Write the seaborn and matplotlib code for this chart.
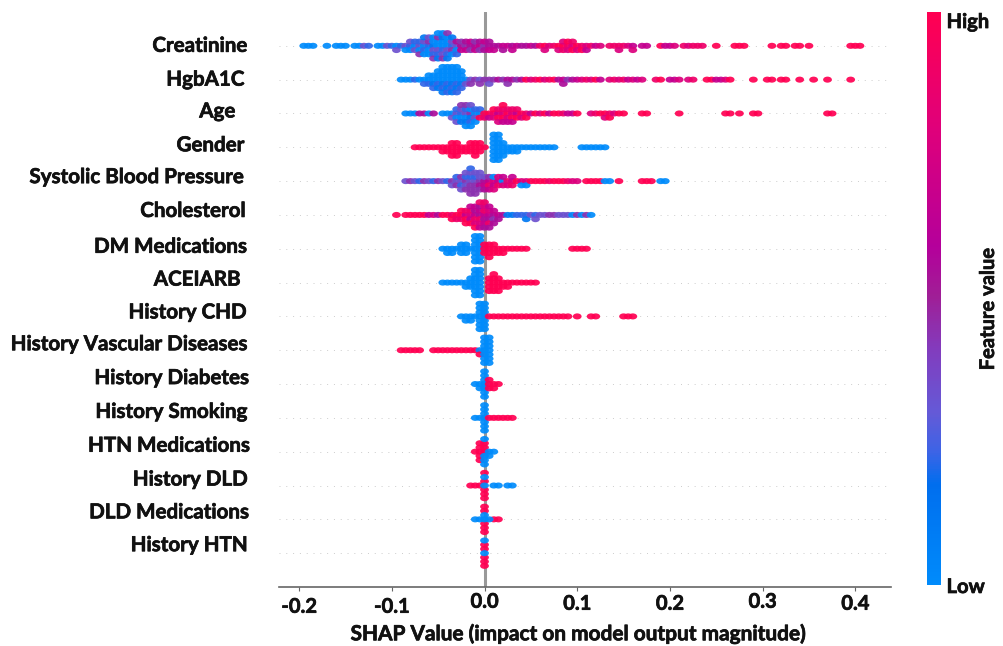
"""SHAP summary plot of feature impact on model output, drawn with seaborn."""

import numpy as np
import pandas as pd
import matplotlib
matplotlib.use('Agg')
import matplotlib.pyplot as plt
import matplotlib.patheffects as pe
import seaborn as sns
from matplotlib.colors import LinearSegmentedColormap
from matplotlib.cm import ScalarMappable
from matplotlib.path import Path
from matplotlib.transforms import Affine2D, ScaledTranslation

features = ['Creatinine', 'HgbA1C', 'Age ', 'Gender', 'Systolic Blood Pressure', 'Cholesterol',
            'DM Medications', 'ACEIARB ', 'History CHD', 'History Vascular Diseases',
            'History Diabetes', 'History Smoking', 'HTN Medications', 'History DLD',
            'DLD Medications', 'History HTN']

# each tone string is one stack of dots at that SHAP value, digit = feature value 0 (low) to 9 (high)
creatinine_shap = [-0.195, -0.19, -0.185, -0.17, -0.16, -0.155, -0.15, -0.14, -0.135, -0.13, -0.125, -0.115,
                   -0.11, -0.105, -0.1, -0.095, -0.09, -0.085, -0.08, -0.075, -0.07, -0.065, -0.06, -0.055,
                   -0.05, -0.045, -0.04, -0.035, -0.03, -0.025, -0.02, -0.015, -0.01, -0.005, 0.0, 0.005,
                   0.01, 0.015, 0.02, 0.025, 0.03, 0.035, 0.04, 0.045, 0.05, 0.055, 0.06, 0.065, 0.07, 0.075,
                   0.08, 0.085, 0.09, 0.095, 0.1, 0.105, 0.11, 0.115, 0.12, 0.125, 0.135, 0.14, 0.145, 0.15,
                   0.155, 0.16, 0.17, 0.175, 0.19, 0.195, 0.2, 0.205, 0.215, 0.22, 0.225, 0.23, 0.235, 0.25,
                   0.27, 0.275, 0.28, 0.31, 0.32, 0.325, 0.335, 0.34, 0.35, 0.395, 0.4, 0.405]
creatinine_tone = ['0', '0', '0', '0', '0', '0', '0', '0', '0', '3', '2', '0',
                   '0', '3', '2', '03', '2', '30', '203', '032', '3024', '02301', '20403', '130204',
                   '0302410', '0203140', '0302014', '24301', '3052', '564', '465', '546', '564', '645', '456', '565',
                   '56', '5', '65', '6', '56', '6', '5', '5', '6', '5', '8', '97', '7', '8',
                   '97', '987', '879', '798', '97', '89', '76', '8', '6', '7', '8', '8', '87', '8',
                   '7', '67', '6', '6', '9', '6', '6', '7', '8', '7', '8', '8', '8', '9',
                   '9', '9', '9', '9', '9', '9', '9', '9', '9', '9', '9', '9']

hba1c_shap = [-0.09, -0.085, -0.08, -0.075, -0.07, -0.065, -0.06, -0.055, -0.05, -0.045, -0.04, -0.035, -0.03,
              -0.025, -0.02, -0.015, -0.01, -0.005, 0.0, 0.005, 0.01, 0.015, 0.02, 0.025, 0.03, 0.035, 0.04,
              0.045, 0.05, 0.055, 0.06, 0.065, 0.07, 0.075, 0.08, 0.085, 0.09, 0.095, 0.1, 0.105, 0.11, 0.115,
              0.12, 0.125, 0.135, 0.14, 0.145, 0.15, 0.155, 0.16, 0.165, 0.17, 0.185, 0.19, 0.2, 0.205, 0.21,
              0.22, 0.225, 0.24, 0.245, 0.25, 0.255, 0.26, 0.265, 0.29, 0.305, 0.31, 0.32, 0.325, 0.34, 0.355,
              0.37, 0.395]
hba1c_tone = ['0', '0', '0', '2', '0', '02', '020', '0102', '02010', '0102010', '0201020', '0102010', '0201020',
              '01020', '03', '34', '4', '34', '4', '43', '4', '5', '4', '54', '5', '4', '5',
              '9', '7', '8', '9', '7', '8', '9', '5', '65', '4', '5', '6', '7', '8', '7',
              '9', '6', '7', '8', '7', '8', '6', '7', '6', '7', '8', '9', '6', '6', '7',
              '7', '8', '9', '9', '6', '6', '7', '9', '9', '9', '9', '9', '9', '9', '9',
              '9', '9']

age_shap = [-0.085, -0.08, -0.075, -0.07, -0.065, -0.06, -0.055, -0.045, -0.04, -0.035, -0.03, -0.025, -0.02,
            -0.015, -0.01, -0.005, 0.0, 0.005, 0.01, 0.015, 0.02, 0.025, 0.03, 0.035, 0.04, 0.045, 0.05, 0.055,
            0.06, 0.065, 0.07, 0.075, 0.08, 0.085, 0.09, 0.095, 0.1, 0.115, 0.12, 0.125, 0.13, 0.135, 0.14,
            0.145, 0.15, 0.17, 0.175, 0.21, 0.26, 0.265, 0.275, 0.29, 0.295, 0.37, 0.375]
age_tone = ['0', '0', '0', '5', '5', '0', '5', '0', '0', '03', '3023', '20314', '302140',
            '410230', '0320', '092', '98', '96', '879', '6987', '79869', '9786', '7986', '698', '97', '89', '6', '9',
            '7', '9', '6', '9', '9', '8', '6', '6', '9', '7', '8', '9', '97', '89', '7',
            '9', '9', '9', '9', '9', '9', '9', '9', '9', '9', '9', '9']

gender_shap = [-0.075, -0.07, -0.065, -0.06, -0.055, -0.05, -0.045, -0.04, -0.035, -0.03, -0.025, -0.02, -0.015,
               -0.01, -0.005, 0.0, 0.01, 0.015, 0.02, 0.025, 0.03, 0.035, 0.04, 0.045, 0.05, 0.055, 0.06, 0.065,
               0.07, 0.075, 0.105, 0.11, 0.115, 0.12, 0.125, 0.13]
gender_tone = ['9', '9', '9', '9', '9', '9', '99', '99', '9999', '9999', '99', '99', '999',
               '9999', '999', '9', '0000000', '0000000', '0000', '00', '00', '00', '0', '0', '0', '0', '0', '0',
               '0', '0', '0', '0', '0', '0', '0', '0']

sbp_shap = [-0.085, -0.08, -0.075, -0.07, -0.065, -0.06, -0.055, -0.05, -0.045, -0.04, -0.035, -0.03, -0.025,
            -0.02, -0.015, -0.01, -0.005, 0.0, 0.005, 0.01, 0.015, 0.02, 0.025, 0.03, 0.035, 0.04, 0.045, 0.05,
            0.055, 0.06, 0.065, 0.07, 0.075, 0.08, 0.085, 0.09, 0.095, 0.1, 0.11, 0.115, 0.12, 0.125, 0.13,
            0.135, 0.145, 0.17, 0.175, 0.18, 0.19, 0.195]
sbp_tone = ['3', '4', '3', '2', '4', '3', '2', '4', '3', '2', '43', '342', '3243',
            '43243', '3424342', '342434', '45343', '5635', '6846', '7607', '687', '076', '87', '786', '9', '70', '70', '9',
            '9', '9', '9', '8', '9', '9', '9', '8', '7', '7', '9', '9', '9', '9', '0',
            '0', '9', '9', '9', '9', '0', '0']

cholesterol_shap = [-0.095, -0.085, -0.08, -0.075, -0.07, -0.065, -0.06, -0.055, -0.05, -0.045, -0.04, -0.035,
                    -0.03, -0.025, -0.02, -0.015, -0.01, -0.005, 0.0, 0.005, 0.01, 0.015, 0.02, 0.025, 0.03, 0.035,
                    0.04, 0.045, 0.05, 0.055, 0.06, 0.065, 0.07, 0.075, 0.08, 0.085, 0.09, 0.095, 0.1, 0.105, 0.11,
                    0.115]
cholesterol_tone = ['9', '9', '9', '9', '9', '9', '6', '7', '5', '9', '9', '89',
                    '98', '989', '6989', '76896', '685769', '5867568', '6586758', '657865', '5465', '65', '5', '1', '1', '2',
                    '2', '21', '3', '23', '3', '3', '4', '4', '3', '3', '3', '0', '4', '0', '4',
                    '0']

dm_shap = [-0.045, -0.04, -0.035, -0.03, -0.025, -0.02, -0.015, -0.01, -0.005, 0.0, 0.005, 0.01, 0.015, 0.02,
           0.025, 0.03, 0.035, 0.04, 0.045, 0.095, 0.1, 0.105, 0.11]
dm_tone = ['0', '00', '00', '0', '000', '000', '0', '0000000', '0000000', '999', '9999', '999', '99', '99',
           '9', '9', '9', '9', '9', '9', '9', '9', '9']

acei_shap = [-0.045, -0.04, -0.035, -0.03, -0.025, -0.02, -0.015, -0.01, -0.005, 0.005, 0.01, 0.015, 0.02, 0.025,
             0.03, 0.035, 0.04, 0.045, 0.05, 0.055]
acei_tone = ['0', '0', '0', '0', '0', '00', '000', '0000000', '0000000', '9999', '99999', '9999', '99', '99',
             '9', '9', '9', '9', '9', '9']

chd_shap = [-0.025, -0.02, -0.015, -0.01, -0.005, 0.0, 0.005, 0.01, 0.015, 0.02, 0.025, 0.03, 0.035, 0.04, 0.045,
            0.05, 0.055, 0.06, 0.065, 0.07, 0.075, 0.08, 0.085, 0.09, 0.1, 0.115, 0.12, 0.15, 0.155, 0.16]
chd_tone = ['0', '00', '00', '0', '0000000', '0000000', '9', '9', '9', '9', '9', '9', '9', '9', '9',
            '9', '9', '9', '9', '9', '9', '9', '9', '9', '9', '9', '9', '9', '9', '9']

vascular_shap = [-0.09, -0.085, -0.08, -0.075, -0.07, -0.055, -0.05, -0.045, -0.04, -0.035, -0.03, -0.025, -0.02,
                 -0.015, -0.01, -0.005, 0.0, 0.005]
vascular_tone = ['9', '9', '9', '9', '9', '9', '9', '9', '9', '9', '9', '9', '9',
                 '9', '9', '09', '0000000', '0000000']

diabetes_shap = [-0.01, -0.005, 0.0, 0.005, 0.01, 0.015]
diabetes_tone = ['0', '00', '0000000', '999', '99', '9']

smoking_shap = [-0.01, -0.005, 0.0, 0.005, 0.01, 0.015, 0.02, 0.025, 0.03]
smoking_tone = ['0', '0', '0000000', '9', '9', '9', '9', '9', '9']

htn_med_shap = [-0.01, -0.005, 0.0, 0.005, 0.01]
htn_med_tone = ['9', '99999', '9090900', '00', '0']

dld_shap = [-0.015, -0.01, -0.005, 0.0, 0.01, 0.015, 0.025, 0.03]
dld_tone = ['9', '9', '9', '0999099', '0', '0', '0', '0']

dld_med_shap = [-0.01, -0.005, 0.0, 0.005, 0.01, 0.015]
dld_med_tone = ['0', '0', '0099999', '0', '9', '9']

htn_shap = [0.0]
htn_tone = ['0999990']

all_shap = [creatinine_shap, hba1c_shap, age_shap, gender_shap, sbp_shap, cholesterol_shap, dm_shap, acei_shap,
            chd_shap, vascular_shap, diabetes_shap, smoking_shap, htn_med_shap, dld_shap, dld_med_shap, htn_shap]
all_tone = [creatinine_tone, hba1c_tone, age_tone, gender_tone, sbp_tone, cholesterol_tone, dm_tone, acei_tone,
            chd_tone, vascular_tone, diabetes_tone, smoking_tone, htn_med_tone, dld_tone, dld_med_tone, htn_tone]

x_ticks = [-0.2, -0.1, 0.0, 0.1, 0.2, 0.3, 0.4]
x_tick_labels = ['-0.2', '-0.1', '0.0', '0.1', '0.2', '0.3', '0.4']

# labels in the figure are hand placed, so every one sits a little off its row (dx, dy in px)
label_shift = [(3, 2), (0, 2), (-4, 4), (0, 4), (-1, 6), (1, 6), (2, 4), (1, 5),
               (2, 6), (2, 8), (4, 8), (3, 8), (5, 8), (3, 8), (4, 9), (3, 10)]
x_label_shift = [0, 0, 5, 3, 3, 5, 3]

TEXT = '#111111'
BOLDER = [pe.withStroke(linewidth=0.5, foreground=TEXT)]


def build_frame():
    rows = []
    for name, shap, tone in zip(features, all_shap, all_tone):
        for value, stack in zip(shap, tone):
            for digit in stack:
                rows.append({'feature': name, 'shap': value, 'tone': int(digit) / 9})
    return pd.DataFrame(rows)


def main():
    sns.set_theme(style='white')
    plt.rcParams['font.family'] = ['Lato', 'DejaVu Sans']
    plt.rcParams['font.weight'] = 'bold'

    cmap = LinearSegmentedColormap.from_list('shap_rb', [
        (0.0, '#008bfb'), (0.175, '#006eee'), (0.23, '#3c64e6'), (0.30, '#645ad7'),
        (0.41, '#823cbe'), (0.505, '#a01e96'), (0.59, '#b4009b'), (0.8, '#e0007a'), (1.0, '#ff0052')])

    df = build_frame()
    fig = plt.figure(figsize=(10.04, 6.46), dpi=100)
    ax = fig.add_axes([279 / 1004, 1 - 587 / 646, (891 - 279) / 1004, (587 - 12) / 646])

    ax.axvline(0, color='#999999', lw=2.2, zorder=1)
    for row in range(len(features)):
        ax.plot([-0.2217, 0.4385], [row, row], color='#cccccc', lw=0.7, ls=(0, (1, 6)), zorder=0)

    ellipse = Path.unit_circle().transformed(Affine2D().scale(1.45, 1))
    sns.swarmplot(data=df, x='shap', y='feature', hue='tone', order=features, palette=cmap,
                  hue_norm=(0, 1), size=2.9, linewidth=0, marker=ellipse, legend=False, ax=ax)

    ax.set_xlim(-0.2217, 0.4385)
    ax.set_ylim(16, -1)

    # swarm layout uses small dots, then the dots get enlarged so they overlap like the SHAP plot
    fig.canvas.draw()
    for row, pts in enumerate(ax.collections):
        del pts.draw
        pts.set_sizes([40])
        pts.set_alpha(0.92)
        if row >= 13:
            # blue dots on top in the thin mixed stacks
            order = np.argsort(-pts.get_facecolor()[:, 0], kind='stable')
            pts.set_offsets(pts.get_offsets()[order])
            pts.set_facecolor(pts.get_facecolor()[order])

    sns.despine(ax=ax, left=True)
    ax.spines['bottom'].set_color('#666666')
    ax.spines['bottom'].set_linewidth(1.2)

    ax.set_xticks(x_ticks)
    ax.set_xticklabels(x_tick_labels, fontsize=14.5, fontweight='bold', color=TEXT, path_effects=BOLDER)
    ax.tick_params(axis='x', bottom=True, length=3, width=0.8, color='#666666', pad=4)
    for label, dy in zip(ax.get_xticklabels(), x_label_shift):
        label.set_transform(label.get_transform() + ScaledTranslation(0, dy / 100, fig.dpi_scale_trans))

    ax.set_yticks(range(len(features)))
    ax.set_yticklabels(features, fontsize=14.8, fontweight='bold', color=TEXT, path_effects=BOLDER)
    ax.tick_params(axis='y', left=False, pad=19)
    for label, (dx, dy) in zip(ax.get_yticklabels(), label_shift):
        label.set_transform(label.get_transform() + ScaledTranslation(dx / 100, dy / 100, fig.dpi_scale_trans))

    ax.set_xlabel('')
    ax.set_ylabel('')
    fig.text(579 / 1004, 1 - 634 / 646, 'SHAP Value (impact on model output magnitude)', ha='center', va='center',
             fontsize=15, fontweight='bold', color=TEXT, path_effects=BOLDER)

    cax = fig.add_axes([927 / 1004, 1 - 585 / 646, 14 / 1004, 573 / 646])
    cbar = fig.colorbar(ScalarMappable(cmap=cmap), cax=cax)
    cbar.outline.set_visible(False)
    cbar.set_ticks([0, 0.986])
    cbar.set_ticklabels(['Low', 'High'], fontsize=14.5, fontweight='bold', color=TEXT, path_effects=BOLDER)
    cbar.ax.tick_params(length=0, pad=4)
    fig.text(988 / 1004, 1 - 309 / 646, 'Feature value', rotation=90, ha='center', va='center',
             fontsize=14.5, fontweight='bold', color=TEXT, path_effects=BOLDER)

    fig.savefig('out.png', dpi=100, facecolor='white')
    plt.close(fig)


if __name__ == "__main__":
    main()
